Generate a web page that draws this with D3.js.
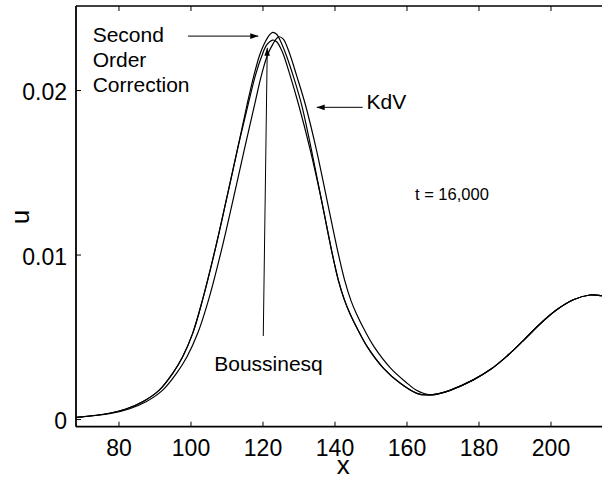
<!DOCTYPE html>
<html>
<head>
<meta charset="utf-8">
<script src="https://cdn.jsdelivr.net/npm/d3@7"></script>
<style>
  html, body { margin: 0; padding: 0; background: #fff; }
  svg { display: block; }
  text { font-family: "Liberation Sans", Arial, Helvetica, sans-serif; fill: #000; }
</style>
</head>
<body>
<div id="chart"></div>
<script>
// Wave profiles u(x) at t = 16,000 for three model equations.
const secondX = [68.2, 77.44, 82.08, 86.72, 91.33, 95.06, 97.83, 100.61, 103.33, 106.81, 109.94, 113.0,
  115.69, 117.64, 119.22, 120.56, 121.75, 122.83, 123.94, 124.86, 126.58, 128.75, 130.89,
  133.61, 136.39, 139.17, 141.06, 142.78, 144.25, 146.53, 149.08, 153.64, 158.28, 162.86, 165.61,
  169.31, 172.08, 178.56, 183.19, 187.83, 192.44, 197.08, 201.72, 206.33, 210.97, 214.22, 216.5];
const secondU = [0.0001, 0.00035, 0.00061, 0.00105, 0.00176, 0.00278, 0.00379, 0.00521, 0.00723, 0.01027, 0.01331, 0.01635,
  0.01909, 0.02091, 0.02213, 0.02284, 0.0233, 0.02351, 0.02339, 0.02304, 0.02213, 0.02071, 0.01909,
  0.01635, 0.01331, 0.01027, 0.00845, 0.00723, 0.00643, 0.00541, 0.0044, 0.00308, 0.00217, 0.00156, 0.00146,
  0.00156, 0.00174, 0.00238, 0.00299, 0.00381, 0.00477, 0.00578, 0.00664, 0.00725, 0.00754, 0.0075, 0.00745];

const boussX = [68.2, 77.44, 82.08, 86.72, 91.33, 95.06, 97.83, 100.61, 103.33, 106.81, 109.94, 113.0,
  115.97, 118.06, 119.72, 121.17, 122.83, 123.94, 125.5, 127.64, 130.06, 133.28,
  136.39, 139.17, 141.06, 142.78, 144.25, 146.53, 149.08, 153.64, 158.28, 162.86, 165.61,
  169.31, 172.08, 178.56, 183.19, 187.83, 192.44, 197.08, 201.72, 206.33, 210.97, 214.22, 216.5];
const boussU = [0.0001, 0.00035, 0.00061, 0.00105, 0.00176, 0.00278, 0.00379, 0.00521, 0.00723, 0.01027, 0.01331, 0.01635,
  0.01909, 0.02091, 0.02202, 0.02274, 0.02304, 0.02294, 0.02233, 0.02091, 0.01909, 0.01635,
  0.01331, 0.01027, 0.00845, 0.00723, 0.00643, 0.00541, 0.0044, 0.00308, 0.00217, 0.00156, 0.00146,
  0.00156, 0.00174, 0.00238, 0.00299, 0.00381, 0.00477, 0.00578, 0.00664, 0.00725, 0.00754, 0.0075, 0.00745];

const kdvX = [68.2, 78.19, 82.92, 87.64, 92.28, 96.11, 99.03, 102.0, 105.0, 108.61, 111.81, 114.92,
  117.78, 119.72, 121.39, 123.0, 123.94, 124.67, 125.78, 127.36, 129.44, 131.94,
  135.0, 137.92, 140.83, 142.81, 144.53, 146.03, 148.33, 150.97, 155.64, 160.22, 162.64, 164.86, 166.94,
  169.31, 172.08, 178.56, 183.19, 187.83, 192.44, 197.08, 201.72, 206.33, 210.97, 214.22, 216.5];
const kdvU = [0.00009, 0.00035, 0.00061, 0.00105, 0.00176, 0.00278, 0.00379, 0.00521, 0.00723, 0.01027, 0.01331, 0.01635,
  0.01909, 0.02091, 0.02213, 0.02284, 0.02314, 0.02324, 0.0231, 0.02233, 0.02091, 0.01909,
  0.01635, 0.01331, 0.01027, 0.00845, 0.00723, 0.00643, 0.00541, 0.0044, 0.00308, 0.00217, 0.00176, 0.00155, 0.00146,
  0.00156, 0.00174, 0.00238, 0.00299, 0.00381, 0.00477, 0.00578, 0.00664, 0.00725, 0.00754, 0.0075, 0.00745];

const xTicks = [80, 100, 120, 140, 160, 180, 200];
const yTicks = [0, 0.01, 0.02];
const yTickLabels = ["0", "0.01", "0.02"];

const series = [
  { name: "Second Order Correction", x: secondX, u: secondU },
  { name: "Boussinesq", x: boussX, u: boussU },
  { name: "KdV", x: kdvX, u: kdvU }
];

// Annotation labels and arrows, placed in data units.
const labelLines = [
  { text: "Second", x: 72.83, u: 0.02295 },
  { text: "Order", x: 72.83, u: 0.02143 },
  { text: "Correction", x: 72.83, u: 0.01991 },
  { text: "KdV", x: 148.9, u: 0.01882 },
  { text: "t = 16,000", x: 162.36, u: 0.01331, small: true },
  { text: "Boussinesq", x: 106.6, u: 0.00289 }
];
const arrows = [
  { x0: 99.3, u0: 0.02328, x1: 118.83, u1: 0.02328 },
  { x0: 147.83, u0: 0.01895, x1: 135.06, u1: 0.01895 },
  { x0: 120.22, u0: 0.00505, x1: 121.33, u1: 0.02257 }
];

const W = 602, H = 483;
const padL = 76, padR = 609.9, padT = 6, padB = 426.7;

const x = d3.scaleLinear().domain([68.2, 216.5]).range([padL, padR]);
const y = d3.scaleLinear().domain([-0.000466, 0.02511]).range([padB, padT]);

const svg = d3.select("#chart").append("svg")
  .attr("width", W).attr("height", H);

const defs = svg.append("defs");
defs.append("clipPath").attr("id", "plotclip")
  .append("rect").attr("x", padL).attr("y", padT)
  .attr("width", padR - padL).attr("height", padB - padT);

defs.append("marker")
  .attr("id", "head").attr("viewBox", "0 0 10 10")
  .attr("refX", 10).attr("refY", 5)
  .attr("markerWidth", 8).attr("markerHeight", 8)
  .attr("markerUnits", "userSpaceOnUse")
  .attr("orient", "auto")
  .append("path").attr("d", "M0,1.5 L10,5 L0,8.5 Z").attr("fill", "#000");

// Curves
const line = d3.line()
  .x(d => x(d[0])).y(d => y(d[1]))
  .curve(d3.curveCatmullRom.alpha(0.5));

svg.append("g").attr("clip-path", "url(#plotclip)")
  .selectAll("path").data(series).join("path")
  .attr("d", s => line(s.x.map((v, i) => [v, s.u[i]])))
  .attr("fill", "none").attr("stroke", "#000").attr("stroke-width", 1.2);

// Axes frame: left, bottom, top (right edge lies beyond the view)
svg.append("line").attr("x1", padL).attr("x2", padL).attr("y1", padT).attr("y2", padB)
  .attr("stroke", "#000").attr("stroke-width", 1.8);
svg.append("line").attr("x1", padL).attr("x2", W + 10).attr("y1", padB).attr("y2", padB)
  .attr("stroke", "#000").attr("stroke-width", 1.8);
svg.append("line").attr("x1", padL).attr("x2", W + 10).attr("y1", padT).attr("y2", padT)
  .attr("stroke", "#000").attr("stroke-width", 1.6);

// Bottom axis with inward ticks
const xAxis = d3.axisBottom(x).tickValues(xTicks).tickSizeInner(-5).tickSizeOuter(0).tickPadding(13);
const gx = svg.append("g").attr("transform", `translate(0,${padB})`).call(xAxis);
gx.select(".domain").remove();
gx.selectAll("line").attr("stroke", "#000").attr("stroke-width", 1);
gx.selectAll("text").attr("font-size", 23).attr("font-family", "Liberation Sans, Arial, sans-serif");

// Top ticks
const xTop = d3.axisTop(x).tickValues(xTicks).tickSizeInner(-5).tickSizeOuter(0).tickFormat("");
const gt = svg.append("g").attr("transform", `translate(0,${padT})`).call(xTop);
gt.select(".domain").remove();
gt.selectAll("line").attr("stroke", "#000").attr("stroke-width", 1);

// Left axis with inward ticks
const yAxis = d3.axisLeft(y).tickValues(yTicks).tickSizeInner(-5).tickSizeOuter(0).tickPadding(9)
  .tickFormat((d, i) => yTickLabels[i]);
const gy = svg.append("g").attr("transform", `translate(${padL},0)`).call(yAxis);
gy.select(".domain").remove();
gy.selectAll("line").attr("stroke", "#000").attr("stroke-width", 1);
gy.selectAll("text").attr("font-size", 23).attr("font-family", "Liberation Sans, Arial, sans-serif")
  .attr("dy", "0.42em");

// Axis titles
svg.append("text").attr("x", x(142.4)).attr("y", 474)
  .attr("text-anchor", "middle").attr("font-size", 26).text("x");
svg.append("text").attr("transform", `translate(28.5,217) rotate(-90)`)
  .attr("text-anchor", "middle").attr("font-size", 26).text("u");

// Annotations
svg.append("g").selectAll("text").data(labelLines).join("text")
  .attr("x", d => x(d.x)).attr("y", d => y(d.u))
  .attr("font-size", d => d.small ? 16.5 : 21)
  .text(d => d.text);

svg.append("g").selectAll("line").data(arrows).join("line")
  .attr("x1", d => x(d.x0)).attr("y1", d => y(d.u0))
  .attr("x2", d => x(d.x1)).attr("y2", d => y(d.u1))
  .attr("stroke", "#000").attr("stroke-width", 1)
  .attr("marker-end", "url(#head)");
</script>
</body>
</html>
